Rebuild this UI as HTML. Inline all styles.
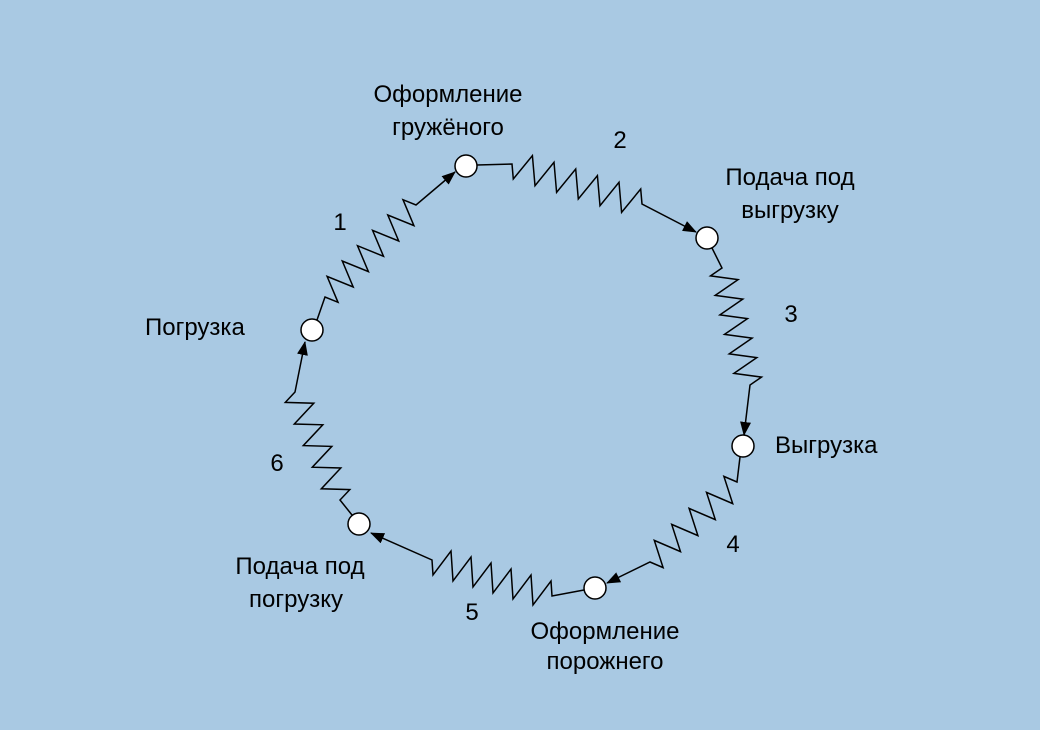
<!DOCTYPE html>
<html><head><meta charset="utf-8"><style>
html,body{margin:0;padding:0;background:#a9c9e3;}
svg{display:block}
text{font-family:"Liberation Sans",sans-serif;font-size:24px;fill:#000}
</style></head><body>
<svg id="s" width="1040" height="730" xmlns="http://www.w3.org/2000/svg">
<defs><marker id="a" markerWidth="14" markerHeight="11" refX="13" refY="5.5" orient="auto" markerUnits="userSpaceOnUse"><path d="M0,0 L14,5.5 L0,11 z" fill="#000"/></marker></defs>
<g id="g" fill="none" stroke="#000" stroke-width="1.5"></g>
<g fill="#fff" stroke="#000" stroke-width="1.5">
<circle cx="466" cy="166" r="11"/><circle cx="707" cy="238" r="11"/><circle cx="743" cy="446" r="11"/>
<circle cx="595" cy="588" r="11"/><circle cx="359" cy="524" r="11"/><circle cx="312" cy="330" r="11"/>
</g>
<g text-anchor="middle">
<text x="448" y="102">Оформление</text><text x="448" y="135">гружёного</text>
<text x="620" y="148">2</text>
<text x="790" y="185">Подача под</text><text x="790" y="218">выгрузку</text>
<text x="791" y="322">3</text>
<text x="733" y="552">4</text>
<text x="605" y="639">Оформление</text><text x="605" y="669">порожнего</text>
<text x="472" y="620">5</text>
<text x="300" y="574">Подача под</text><text x="296" y="607">погрузку</text>
<text x="277" y="471">6</text>
<text x="340" y="230">1</text>
</g>
<text x="775" y="453">Выгрузка</text>
<text x="145" y="335">Погрузка</text>
</svg>
<script>
var segs=[
[[317,320],[325,297],[416,205],[455,172],6,26],
[[477,165],[512,164],[642,204],[696,232],6,28],
[[712,248],[722,268],[750,385],[744,435],6,26],
[[740,457],[737,482],[650,562],[607,583],5,26],
[[584,590],[552,596],[432,560],[371,533],6,28],
[[352,515],[340,500],[295,392],[305,342],5,26]];
var g=document.getElementById('g'),h='';
segs.forEach(function(s){
var A=s[0],P=s[1],Q=s[2],B=s[3],n=s[4],am=s[5];
var dx=Q[0]-P[0],dy=Q[1]-P[1],L=Math.hypot(dx,dy),ux=dx/L,uy=dy/L,nx=-uy,ny=ux;
var d='M'+A[0]+','+A[1]+' L'+P[0]+','+P[1];
var k=2*n;
for(var i=0;i<k;i++){var t=(i+0.5)/k*L,sgn=(i%2?-1:1)*am/2;
d+=' L'+(P[0]+ux*t+nx*sgn).toFixed(1)+','+(P[1]+uy*t+ny*sgn).toFixed(1);}
d+=' L'+Q[0]+','+Q[1]+' L'+B[0]+','+B[1];
h+='<path d="'+d+'" marker-end="url(#a)"/>';});
g.innerHTML=h;
</script>
</body></html>
